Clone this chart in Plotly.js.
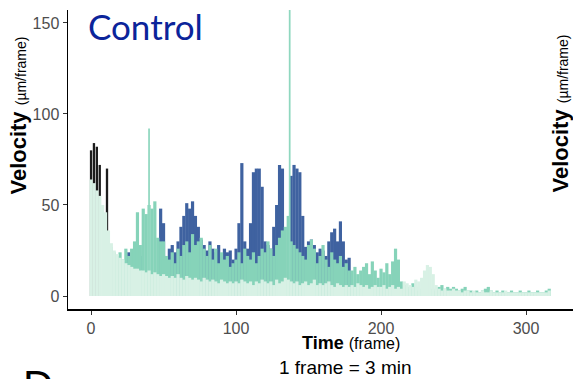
<!DOCTYPE html>
<html>
<head>
<meta charset="utf-8">
<script src="https://cdn.plot.ly/plotly-3.0.1.min.js"></script>
<style>html,body{margin:0;padding:0;background:#fff;}#chart{width:573px;height:379px;}</style>
</head>
<body>
<div id="chart"></div>
<script>
// Velocity (µm/frame) per 2-frame bin, frames 0..318
const mintValues = [
  64,62,58,55,50,46,36,29,25,23,
  21,20,18,17,16,15,15,14,14,13,
  14,12,13,12,11,12,11,10,11,10,
  12,10,9,11,10,9,10,9,8,10,
  9,8,9,8,7,9,8,7,8,7,
  8,7,9,8,7,8,6,8,7,9,
  8,7,8,6,9,7,8,10,9,8,
  7,8,6,7,8,6,7,9,6,7,
  6,7,8,6,5,7,6,5,6,5,
  6,5,7,6,5,6,4,5,6,5,
  5,6,4,5,6,4,5,4,8,7,
  6,5,9,8,10,14,17,16,12,6,
  4,3,4,3,3,4,3,3,2,3,
  3,2,3,2,2,3,2,2,3,2,
  2,2,2,3,2,2,2,2,2,2,
  2,2,2,2,2,2,2,2,3,0
];
const tealValues = [
  0,0,0,0,0,0,0,27,24,22,
  24,20,26,22,26,30,46,28,48,45,
  50,48,52,32,30,30,22,20,24,18,
  26,22,28,30,24,34,28,30,32,26,
  22,28,20,26,18,24,20,22,16,18,
  20,24,18,26,22,20,24,18,22,26,
  24,30,26,22,28,32,36,38,44,30,
  28,26,24,22,20,28,31,26,18,22,
  28,20,16,24,20,18,22,16,18,14,
  14,16,12,14,16,18,12,19,14,10,
  15,13,18,12,19,26,20,8,6,5,
  4,7,5,3,4,3,5,4,3,4,
  5,6,4,5,4,5,4,3,4,5,
  3,3,2,3,2,3,4,5,3,2,
  3,2,3,2,2,3,2,2,3,2,
  2,3,2,2,3,2,2,3,4,0
];
const blueValues = [
  0,0,0,0,0,0,0,0,0,0,
  0,0,0,24,0,26,0,22,0,0,
  0,0,0,0,48,40,0,26,28,24,
  30,38,44,51,48,52,44,38,31,28,
  25,30,26,24,28,22,26,24,25,20,
  26,40,73,30,26,40,68,70,70,60,
  30,28,26,38,50,72,70,0,0,66,
  72,70,68,44,27,30,31,28,24,26,
  25,22,30,35,37,30,41,30,20,21,
  0,0,0,0,0,0,0,0,0,0,
  0,0,0,0,0,0,0,0,0,0,
  0,0,0,0,0,0,0,0,0,0,
  0,0,0,0,0,0,0,0,0,0,
  0,0,0,0,0,0,0,0,0,0,
  0,0,0,0,0,0,0,0,0,0,
  0,0,0,0,0,0,0,0,0,0
];
const darkFrames = [0, 2, 4, 6, 11];
const darkValues = [80, 84, 82, 72, 70];
const spikeFrames = [40, 137];
const spikeValues = [92, 160];
const frames = mintValues.map((_, i) => i * 2);

const xTicks = [0, 100, 200, 300];
const yTicks = [0, 50, 100, 150];

const FONT = 'Liberation Sans, Arial, sans-serif';
const traces = [
  {type:'bar', x: darkFrames, y: darkValues, width: 1.6, marker:{color:'#1c1c1c'}, hoverinfo:'skip'},
  {type:'bar', x: frames, y: blueValues, width: 2.2, marker:{color:'#3f62a0'}, hoverinfo:'skip'},
  {type:'bar', x: frames, y: tealValues, width: 2.2, marker:{color:'#86d3b9'}, hoverinfo:'skip'},
  {type:'bar', x: spikeFrames, y: spikeValues, width: 1.2, marker:{color:'#8fd7bf'}, hoverinfo:'skip'},
  {type:'bar', x: frames, y: mintValues, width: 2.2, marker:{color:'#d8f1e5'}, hoverinfo:'skip'}
];

const layout = {
  width: 573, height: 379,
  margin: {l: 68, r: 0, t: 10, b: 70, pad: 0},
  paper_bgcolor: '#fff', plot_bgcolor: '#fff',
  barmode: 'overlay', showlegend: false,
  font: {family: FONT, color: '#4d4d4d'},
  xaxis: {
    range: [-15.9, 332.4], tickvals: xTicks, ticktext: xTicks.map(String),
    showgrid: false, zeroline: false, showline: true, linecolor: '#000', linewidth: 1.5,
    ticks: 'outside', ticklen: 4, tickcolor: '#333', tickwidth: 1,
    tickfont: {size: 16, color: '#4d4d4d', family: FONT}
  },
  yaxis: {
    range: [-7.14, 157.1], tickvals: yTicks, ticktext: yTicks.map(String),
    showgrid: false, zeroline: false, showline: true, linecolor: '#000', linewidth: 1.5,
    ticks: 'outside', ticklen: 4, tickcolor: '#333', tickwidth: 1,
    tickfont: {size: 16, color: '#4d4d4d', family: FONT}
  },
  annotations: [
    {text: 'Control', xref: 'paper', yref: 'paper', x: 0.036, y: 0.946, xanchor: 'left', yanchor: 'middle',
     showarrow: false, font: {family: 'Lato, sans-serif', size: 35, color: '#0b249a'}},
    {text: '<b>Velocity</b> <span style="font-size:14px">(µm/frame)</span>', xref: 'paper', yref: 'paper',
     x: -0.097, y: 0.647, xanchor: 'center', yanchor: 'middle', textangle: -90, showarrow: false,
     font: {family: FONT, size: 22, color: '#000'}},
    {text: '<b>Velocity</b> <span style="font-size:14px">(µm/frame)</span>', xref: 'paper', yref: 'paper',
     x: 0.975, y: 0.655, xanchor: 'center', yanchor: 'middle', textangle: -90, showarrow: false,
     font: {family: FONT, size: 22, color: '#000'}},
    {text: '<b>Time</b> <span style="font-size:16px">(frame)</span>', xref: 'paper', yref: 'paper',
     x: 0.56, y: -0.114, xanchor: 'center', yanchor: 'middle', showarrow: false,
     font: {family: FONT, size: 18, color: '#000'}},
    {text: '1 frame = 3 min', xref: 'paper', yref: 'paper',
     x: 0.55, y: -0.197, xanchor: 'center', yanchor: 'middle', showarrow: false,
     font: {family: FONT, size: 19, color: '#000'}},
    {text: 'D', xref: 'paper', yref: 'paper',
     x: -0.06, y: -0.172, xanchor: 'center', yanchor: 'top', showarrow: false,
     font: {family: FONT, size: 42, color: '#000'}}
  ]
};

Plotly.newPlot('chart', traces, layout, {displayModeBar: false, staticPlot: true});
</script>
</body>
</html>
